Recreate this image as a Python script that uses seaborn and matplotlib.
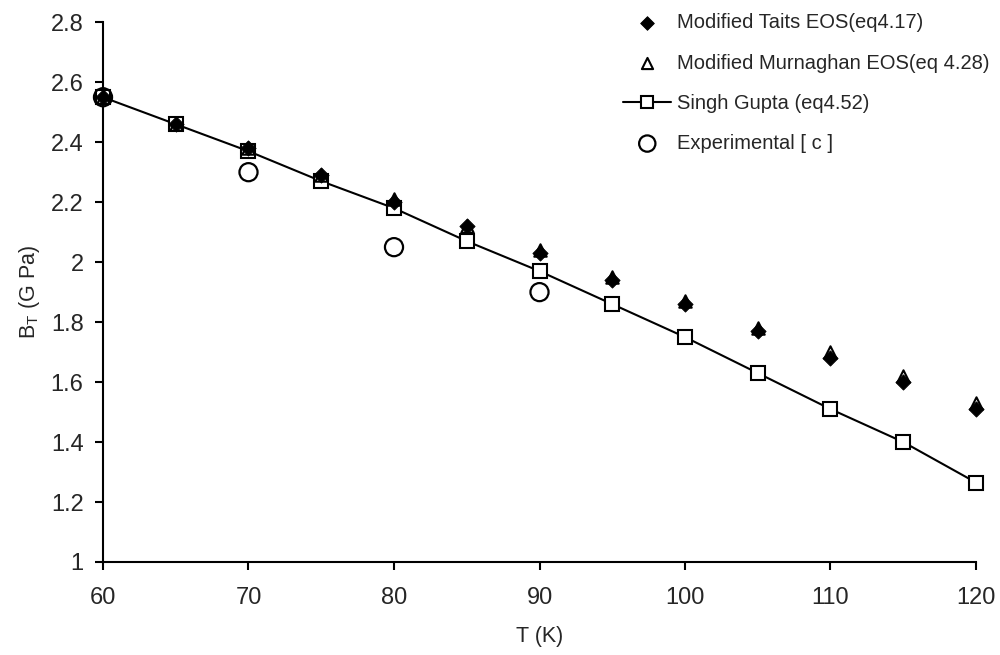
import numpy as np
import pandas as pd
import matplotlib
matplotlib.use("Agg")
import matplotlib.pyplot as plt
import seaborn as sns

# temperatures (K)
T = [60, 65, 70, 75, 80, 85, 90, 95, 100, 105, 110, 115, 120]

# bulk modulus B_T (GPa)
tait = [2.55, 2.46, 2.38, 2.29, 2.20, 2.12, 2.03, 1.94, 1.86, 1.77, 1.68, 1.60, 1.51]
murnaghan = [2.55, 2.46, 2.38, 2.29, 2.21, 2.12, 2.04, 1.95, 1.87, 1.78, 1.70, 1.62, 1.53]
singh_gupta = [2.55, 2.46, 2.37, 2.27, 2.18, 2.07, 1.97, 1.86, 1.75, 1.63, 1.51, 1.40, 1.265]

T_exp = [60, 70, 80, 90]
experimental = [2.55, 2.30, 2.05, 1.90]

sns.set_style("ticks")
plt.rcParams['font.family'] = ['Liberation Sans', 'DejaVu Sans']

fig, ax = plt.subplots(figsize=(10, 6.55), dpi=100)
fig.subplots_adjust(left=0.103, right=0.976, bottom=0.142, top=0.966)

sns.lineplot(x=T, y=singh_gupta, ax=ax, color="black", lw=1.5, marker="s", ms=10,
             markerfacecolor="white", markeredgecolor="black", markeredgewidth=1.5,
             label="Singh Gupta (eq4.52)", zorder=2, clip_on=False)
sns.scatterplot(x=T, y=murnaghan, ax=ax, marker="^", s=80, facecolor="white",
                edgecolor="black", linewidth=1.5, label="Modified Murnaghan EOS(eq 4.28)",
                zorder=3, clip_on=False)
sns.scatterplot(x=T, y=tait, ax=ax, marker="D", s=60, color="black",
                edgecolor="black", label="Modified Taits EOS(eq4.17)", zorder=4, clip_on=False)
sns.scatterplot(x=T_exp, y=experimental, ax=ax, marker="o", s=170, facecolor="none",
                edgecolor="black", linewidth=1.6, label="Experimental [ c ]", zorder=5,
                clip_on=False)

ax.set_xlim(60, 120)
ax.set_ylim(1, 2.8)
ax.set_xticks(np.arange(60, 121, 10))
ax.set_yticks(np.arange(1.0, 2.81, 0.2))
ax.set_yticklabels(["1", "1.2", "1.4", "1.6", "1.8", "2", "2.2", "2.4", "2.6", "2.8"])
ax.tick_params(labelsize=17, length=6, width=1.5, color="black")
ax.tick_params(axis="x", pad=12)
ax.tick_params(axis="y", pad=8)
for s in ["left", "bottom"]:
    ax.spines[s].set_linewidth(1.5)
    ax.spines[s].set_color("black")
sns.despine(ax=ax)

ax.set_xlabel("T (K)", fontsize=15.5, labelpad=12)
ax.set_ylabel(r"B$_\mathregular{T}$ (G Pa)", fontsize=15.5, labelpad=6)

h, l = ax.get_legend_handles_labels()
order = [l.index("Modified Taits EOS(eq4.17)"), l.index("Modified Murnaghan EOS(eq 4.28)"),
         l.index("Singh Gupta (eq4.52)"), l.index("Experimental [ c ]")]
ax.legend([h[i] for i in order], [l[i] for i in order], loc="upper left",
          bbox_to_anchor=(0.575, 1.05), frameon=False, fontsize=14.5, labelspacing=1.05,
          handletextpad=0.3, handlelength=2.4, markerscale=0.9)

fig.savefig("out.png", dpi=100)
